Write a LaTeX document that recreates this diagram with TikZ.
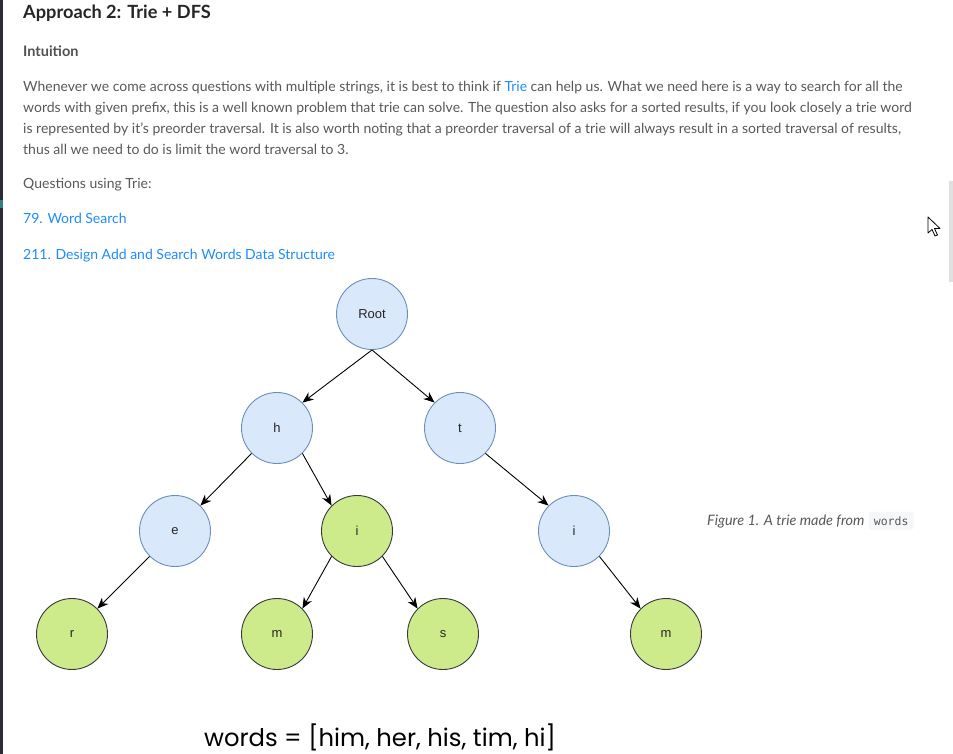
\documentclass[tikz,border=0pt]{standalone}
\usepackage{fontspec}
\setmainfont{Lato}
\newfontfamily\nodefont{Liberation Sans}
\newfontfamily\codefont{DejaVu Sans Mono}
\newfontfamily\handfont{Poppins}
\usetikzlibrary{arrows.meta,positioning}

\definecolor{headgray}{HTML}{262626}
\definecolor{bodygray}{HTML}{595959}
\definecolor{linkblue}{HTML}{1E8CFF}
\definecolor{nodeblue}{HTML}{DAE8FC}
\definecolor{nodeblueline}{HTML}{6C8EBF}
\definecolor{nodegreen}{HTML}{CDEB8B}
\definecolor{nodegreenline}{HTML}{36393D}
\definecolor{codebg}{HTML}{F6F7F9}
\definecolor{sidebar}{HTML}{2A2B36}

\begin{document}
\begin{tikzpicture}[x=1pt, y=-1pt,
    trienode/.style={circle, minimum size=71pt, inner sep=0pt, line width=0.9pt,
        text=black!85, font=\nodefont\fontsize{13}{15}\selectfont},
    bluenode/.style={trienode, fill=nodeblue, draw=nodeblueline},
    greennode/.style={trienode, fill=nodegreen, draw=nodegreenline},
    edge/.style={-{Stealth[length=11pt, width=9pt, inset=3.5pt]}, line width=0.9pt},
    bodytext/.style={anchor=base west, inner sep=0pt, text=bodygray,
        font=\fontsize{14}{16}\selectfont},
    linktext/.style={bodytext, text=linkblue},
]
    \useasboundingbox [fill=white] (0, 0) rectangle (953, 754);

    % page frame
    \fill [sidebar] (0, 0) rectangle (3, 754);
    \fill [teal!60!gray] (0, 200) rectangle (3, 208);
    \fill [black!12] (949, 181) rectangle (953, 282);
    \draw [fill=white, line width=0.8pt, line join=round]
        (928, 217) -- (928, 233) -- (932, 229.5) -- (935, 236) -- (937.5, 235)
        -- (934.5, 228.5) -- (940, 228.5) -- cycle;

    % text above the picture
    \node (title) [anchor=base west, inner sep=0pt, text=headgray,
        font=\bfseries\fontsize{18.2}{22}\selectfont] at (23, 18.5) {Approach 2: Trie + DFS};
    \node (intuition) [bodytext, text=headgray!80, font=\bfseries\fontsize{14.5}{16}\selectfont]
        at (23, 56.5) {Intuition};
    \node (line1) [bodytext] at (23, 91.5) {Whenever we come across questions with multiple strings, it is best to think if \textcolor{linkblue}{Trie} can help us. What we need here is a way to search for all the};
    \node (line2) [bodytext] at (23, 112.5) {words with given prefix, this is a well known problem that trie can solve. The question also asks for a sorted results, if you look closely a trie word};
    \node (line3) [bodytext] at (23, 133.5) {is represented by it's preorder traversal. It is also worth noting that a preorder traversal of a trie will always result in a sorted traversal of results,};
    \node (line4) [bodytext] at (23, 154.5) {thus all we need to do is limit the word traversal to 3.};
    \node (questions) [bodytext] at (23, 189) {Questions using Trie:};
    \node (q79) [linktext] at (23, 224) {79. Word Search};
    \node (q211) [linktext] at (23, 259) {211. Design Add and Search Words Data Structure};

    % the trie
    \node (root) [bluenode] at (372, 314) {Root};
    \node (h) [bluenode] at (277, 428) {h};
    \node (t) [bluenode] at (460, 428) {t};
    \node (e) [bluenode] at (175, 531) {e};
    \node (hi) [greennode] at (357, 531) {i};
    \node (ti) [bluenode] at (574, 531) {i};
    \node (r) [greennode] at (72, 634) {r};
    \node (him) [greennode] at (277, 634) {m};
    \node (his) [greennode] at (443, 634) {s};
    \node (tim) [greennode] at (666, 634) {m};

    \draw [edge] (root.south) -- (h.north east);
    \draw [edge] (root.south) -- (t.north west);
    \draw [edge] (h.south west) -- (e.north east);
    \draw [edge] (h.south east) -- (hi.north west);
    \draw [edge] (t.south east) -- (ti.north west);
    \draw [edge] (e.south west) -- (r.north east);
    \draw [edge] (hi.south west) -- (him.north east);
    \draw [edge] (hi.south east) -- (his.north west);
    \draw [edge] (ti.south east) -- (tim.north west);

    \node (words) [anchor=base, inner sep=0pt, text=black,
        font=\handfont\fontsize{24.3}{28}\selectfont] at (380, 746) {words = [him, her, his, tim, hi]};

    % caption
    \node (caption) [bodytext, font=\itshape\fontsize{14.4}{16}\selectfont] at (707, 525)
        {Figure 1. A trie made from};
    \node (code) [right=4pt of caption.base east, anchor=base west, fill=codebg,
        rounded corners=2pt, inner xsep=5pt, inner ysep=4.5pt, text=bodygray,
        font=\codefont\fontsize{11.5}{13}\selectfont] {words};
\end{tikzpicture}
\end{document}
